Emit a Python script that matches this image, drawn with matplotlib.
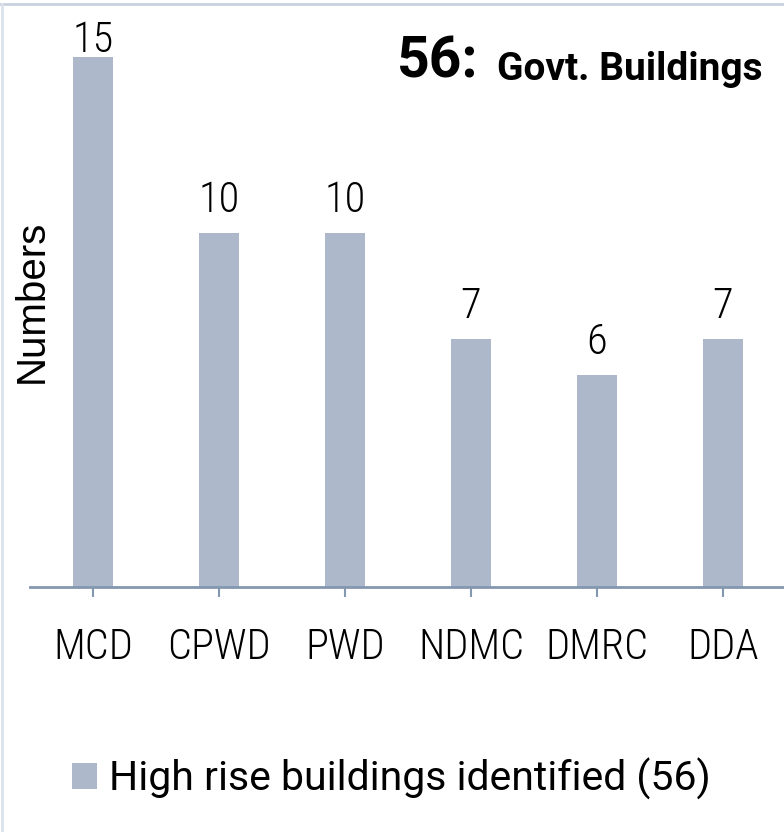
import matplotlib
matplotlib.use("Agg")
import matplotlib.pyplot as plt
from matplotlib import font_manager
from matplotlib.lines import Line2D
from matplotlib.patches import Patch

# ---- data ----
categories = ["MCD", "CPWD", "PWD", "NDMC", "DMRC", "DDA"]
values = [15, 10, 10, 7, 6, 7]
series_name = "High rise buildings identified (56)"
title_num = "56:"
title_txt = "Govt. Buildings"
y_label = "Numbers"

# ---- fonts ----
available = {f.name for f in font_manager.fontManager.ttflist}
def pick(cands):
    for c in cands:
        if c in available:
            return c
    return "DejaVu Sans"

narrow = pick(["Roboto Condensed", "Liberation Sans Narrow", "Roboto"])
bold_font = pick(["Roboto", "Inter", "DejaVu Sans"])
ylab_font = pick(["Liberation Sans", "Roboto", "DejaVu Sans"])
leg_font = pick(["Roboto", "Lato", "DejaVu Sans"])

BAR = "#ADB9CA"
AXC = "#8497B0"

W, H = 784, 832
fig = plt.figure(figsize=(W / 100, H / 100), dpi=100)

ppu = 35.33
y0 = 586.5
ytop = 16.0
ax_left = 30
ax_right = 786
ax = fig.add_axes([ax_left / W, (H - y0) / H, (ax_right - ax_left) / W, ytop * ppu / H])
x = list(range(len(categories)))
ax.bar(x, values, width=0.32, color=BAR, zorder=2)
ax.set_xlim(-0.5, len(categories) - 0.5)
ax.set_ylim(0, ytop)

for s in ["top", "right", "left"]:
    ax.spines[s].set_visible(False)
ax.spines["bottom"].set_color(AXC)
ax.spines["bottom"].set_linewidth(2)
ax.spines["bottom"].set_zorder(3)
ax.set_yticks([])
ax.set_xticks(x)
ax.set_xticklabels(categories, fontsize=30.5, family=narrow, fontweight="light")
ax.tick_params(axis="x", direction="inout", length=15, width=1.5, color=AXC, pad=22)

for xi, v in zip(x, values):
    yb = min(v + 0.594, 15.13)
    ax.text(xi, yb, str(v), ha="center", va="baseline", fontsize=30.5,
            family=narrow, fontweight="light", clip_on=False)

fig.text(13 / W, 1 - 301 / H, y_label, rotation=90, ha="left", va="center",
         fontsize=29, family=ylab_font)

fig.text(397 / W, 1 - 78 / H, title_num, ha="left", va="baseline",
         fontsize=41, fontweight="bold", family=bold_font)
fig.text(497 / W, 1 - 80 / H, title_txt, ha="left", va="baseline",
         fontsize=28, fontweight="bold", family=bold_font)

handle = Patch(facecolor=BAR, edgecolor="none")
fig.legend([handle], [series_name], loc="center left",
           bbox_to_anchor=(72 / W, 1 - 779 / H), frameon=False,
           prop={"family": leg_font, "size": 29.5}, handlelength=0.6,
           handleheight=0.6, handletextpad=0.3, borderpad=0, borderaxespad=0)

# chart-area border (top and left visible)
fig.add_artist(Line2D([0, 1], [1 - 3.5 / H, 1 - 3.5 / H], color="#C9D1DE", lw=2))
fig.add_artist(Line2D([2 / W, 2 / W], [0, 1 - 3.5 / H], color="#DCE2EC", lw=2))

fig.savefig("out.png", dpi=100)
